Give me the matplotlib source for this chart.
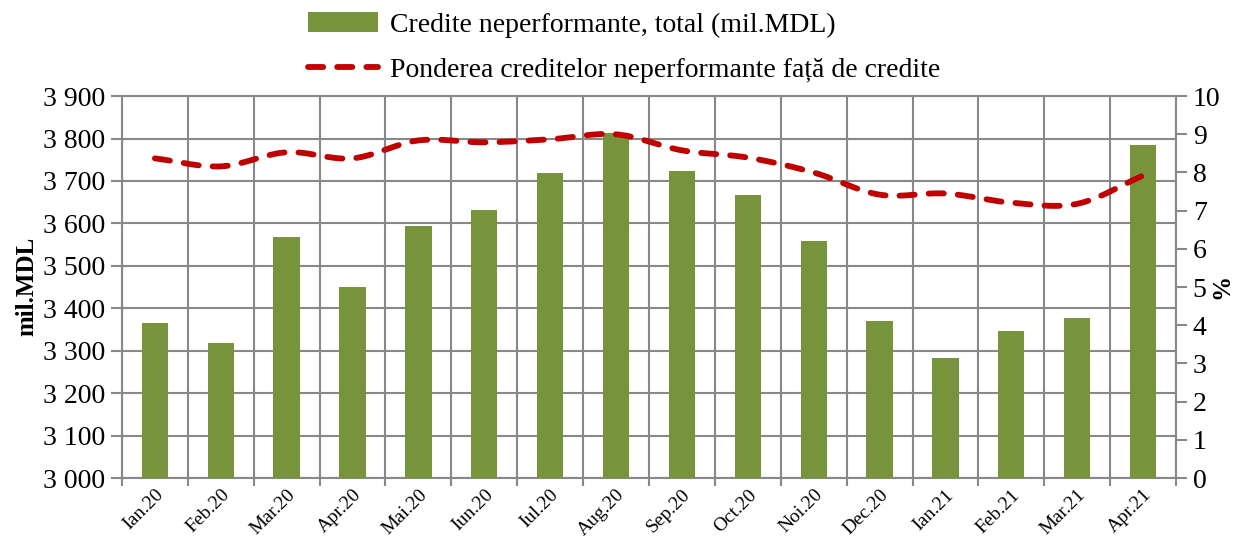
import numpy as np
import matplotlib.pyplot as plt
from matplotlib.lines import Line2D
from matplotlib.patches import Patch

months = ["Ian.20", "Feb.20", "Mar.20", "Apr.20", "Mai.20", "Iun.20", "Iul.20", "Aug.20",
          "Sep.20", "Oct.20", "Noi.20", "Dec.20", "Ian.21", "Feb.21", "Mar.21", "Apr.21"]
credite = [3366, 3319, 3567, 3449, 3593, 3631, 3719, 3812,
           3724, 3667, 3559, 3371, 3283, 3347, 3376, 3785]
pondere = [8.37, 8.16, 8.53, 8.37, 8.84, 8.79, 8.87, 9.0,
           8.58, 8.39, 8.0, 7.42, 7.45, 7.21, 7.18, 7.92]

plt.rcParams['font.family'] = ['Liberation Serif', 'DejaVu Serif']

GREEN = "#77933C"
RED = "#C00000"
GRID = "#888888"
DASH = (0, (2.6, 2.4))


def smooth(x, y, n=20):
    # catmull-rom curve, like excel's "smoothed line"
    x = np.asarray(x, float)
    y = np.asarray(y, float)
    px = np.concatenate([[2 * x[0] - x[1]], x, [2 * x[-1] - x[-2]]])
    py = np.concatenate([[2 * y[0] - y[1]], y, [2 * y[-1] - y[-2]]])
    xs, ys = [], []
    t = np.linspace(0, 1, n, endpoint=False)
    for i in range(1, len(px) - 2):
        for p, out in ((px, xs), (py, ys)):
            p0, p1, p2, p3 = p[i - 1], p[i], p[i + 1], p[i + 2]
            out.extend(0.5 * (2 * p1 + (-p0 + p2) * t + (2 * p0 - 5 * p1 + 4 * p2 - p3) * t ** 2
                              + (-p0 + 3 * p1 - 3 * p2 + p3) * t ** 3))
    xs.append(x[-1])
    ys.append(y[-1])
    return xs, ys


fig = plt.figure(figsize=(12.37, 5.40), dpi=100)
ax = fig.add_axes([0.0986, 0.1148, 0.8521, 0.7072])
x = np.arange(len(months))

ax.bar(x, credite, width=0.4, color=GREEN, zorder=3)
ax.set_ylim(3000, 3900)
ax.set_xlim(-0.5, len(months) - 0.5)
ax.set_yticks(range(3000, 3901, 100))
ax.set_yticklabels([f"{v // 1000} {v % 1000:03d}" for v in range(3000, 3901, 100)], fontsize=20)
ax.set_xticks(x)
ax.set_xticklabels(months, rotation=45, ha='right', va='top', rotation_mode='anchor', fontsize=14)
ax.set_xticks(np.arange(-0.5, len(months)), minor=True)
ax.tick_params(axis='x', which='major', length=0, pad=6)
ax.tick_params(axis='x', which='minor', length=6, color=GRID, width=1.5)
ax.tick_params(axis='y', length=8, color=GRID, width=1.5, pad=4)
ax.grid(axis='y', color=GRID, linewidth=1.5, zorder=0)
ax.grid(axis='x', which='minor', color=GRID, linewidth=1.5, zorder=0)
for s in ax.spines.values():
    s.set_color(GRID)
    s.set_linewidth(1.5)

ax2 = ax.twinx()
sx, sy = smooth(x, pondere)
ax2.plot(sx, sy, color=RED, linewidth=4.2, linestyle=DASH,
         dash_capstyle='round', solid_capstyle='round', zorder=4)
ax2.set_ylim(0, 10)
ax2.set_yticks(range(0, 11))
ax2.tick_params(axis='y', length=8, color=GRID, width=1.5, labelsize=20, pad=4)
for s in ax2.spines.values():
    s.set_visible(False)

fig.text(0.022, 0.47, "mil.MDL", rotation=90, fontsize=18, fontweight='bold', ha='center', va='center')
fig.text(0.988, 0.47, "%", rotation=90, fontsize=18, fontweight='bold', ha='center', va='center')

handles = [Patch(facecolor=GREEN),
           Line2D([0], [0], color=RED, linewidth=4.2, linestyle=DASH, dash_capstyle='round')]
labels = ["Credite neperformante, total (mil.MDL)",
          "Ponderea creditelor neperformante față de credite"]
fig.legend(handles, labels, loc='upper left', bbox_to_anchor=(0.229, 1.024), frameon=False,
           fontsize=20, handlelength=2.5, handleheight=0.75, handletextpad=0.45, labelspacing=0.7)

fig.savefig("out.png", dpi=100)
